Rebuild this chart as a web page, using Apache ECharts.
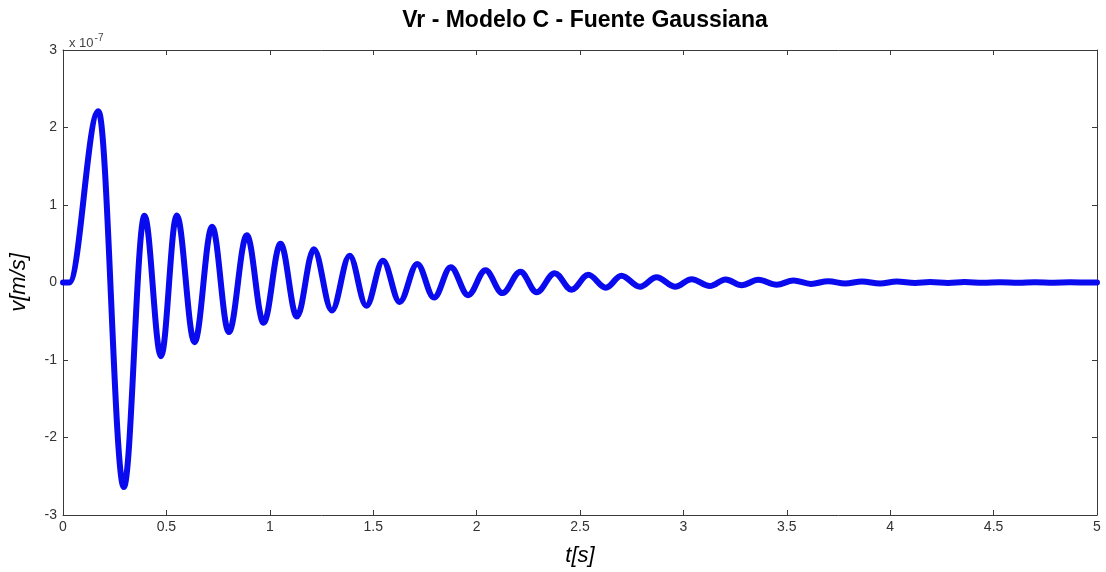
<!DOCTYPE html>
<html>
<head>
<meta charset="utf-8">
<script src="https://cdn.jsdelivr.net/npm/echarts@6/dist/echarts.min.js"></script>
<style>
  html, body { margin: 0; padding: 0; background: #ffffff; }
  #chart { width: 1106px; height: 572px; }
</style>
</head>
<body>
<div id="chart"></div>
<script>
// Radial velocity response (units of 1e-7 m/s), sampled at its turning points.
const timeS = [
  0, 0.03, 0.171, 0.294, 0.394, 0.474, 0.550, 0.636, 0.721, 0.802,
  0.889, 0.970, 1.052, 1.131, 1.213, 1.300, 1.386, 1.467, 1.547, 1.628,
  1.713, 1.794, 1.875, 1.959, 2.043, 2.125, 2.212, 2.290, 2.378, 2.459,
  2.540, 2.625, 2.700, 2.790, 2.870, 2.959, 3.040, 3.128, 3.204, 3.282,
  3.362, 3.451, 3.532, 3.617, 3.701, 3.782, 3.863, 3.951, 4.032, 4.120,
  4.193, 4.280, 4.360, 4.450, 4.530, 4.620, 4.700, 4.790, 4.870, 5.000
];
const vr = [
  0, 0, 2.21, -2.64, 0.86, -0.95, 0.865, -0.77, 0.72, -0.64,
  0.61, -0.52, 0.50, -0.44, 0.43, -0.36, 0.345, -0.30, 0.28, -0.25,
  0.24, -0.195, 0.197, -0.163, 0.158, -0.137, 0.139, -0.125, 0.12, -0.093,
  0.10, -0.067, 0.087, -0.054, 0.068, -0.054, 0.043, -0.045, 0.04, -0.035,
  0.035, -0.028, 0.025, -0.018, 0.017, -0.013, 0.013, -0.012, 0.012, -0.005,
  0.005, -0.005, 0.005, -0.004, 0.004, -0.003, 0.003, -0.002, 0.002, 0
];

const xTicks = { min: 0, max: 5, step: 0.5 };
const yTicks = { min: -3, max: 3, step: 1 };

const titleText = 'Vr - Modelo C - Fuente Gaussiana';
const xLabel = 't[s]';
const yLabel = 'v[m/s]';

const seriesData = timeS.map((t, i) => [t, vr[i]]);

const axisColor = '#3a3a3a';
const labelFont = { fontFamily: 'Liberation Sans', fontSize: 14, color: '#333333' };

function boxAxis(position, ticks, showLabels, extra) {
  return Object.assign({
    type: 'value',
    position: position,
    min: ticks.min,
    max: ticks.max,
    interval: ticks.step,
    splitLine: { show: false },
    axisLine: { show: true, onZero: false, lineStyle: { color: axisColor, width: 1 } },
    axisTick: { show: true, inside: true, length: 5, lineStyle: { color: axisColor } },
    axisLabel: Object.assign({ show: showLabels }, labelFont)
  }, extra || {});
}

const chart = echarts.init(document.getElementById('chart'), null, { renderer: 'canvas' });
chart.setOption({
  backgroundColor: '#ffffff',
  animation: false,
  title: [
    {
      text: titleText,
      left: 580,
      textAlign: 'center',
      top: 4,
      textStyle: { fontFamily: 'Liberation Sans', fontSize: 23, fontWeight: 'bold', color: '#000000' }
    },
    {
      // axis multiplier shown above the value axis
      text: '{a|x 10}{b|-7}',
      left: 64,
      top: 28,
      textStyle: {
        fontWeight: 'normal',
        rich: {
          a: { fontFamily: 'Liberation Sans', fontSize: 13, fontWeight: 'normal', color: '#444444', verticalAlign: 'bottom' },
          b: { fontFamily: 'Liberation Sans', fontSize: 10, fontWeight: 'normal', color: '#444444', verticalAlign: 'top', padding: [0, 0, 7, 1] }
        }
      }
    }
  ],
  grid: { left: 62, right: 9, top: 50, bottom: 55, containLabel: false },
  xAxis: [
    boxAxis('bottom', xTicks, true, {
      name: xLabel,
      nameLocation: 'middle',
      nameGap: 30,
      nameTextStyle: { fontFamily: 'Liberation Sans', fontSize: 22, fontStyle: 'italic', color: '#000000' },
      axisLabel: Object.assign({ show: true, margin: 5 }, labelFont)
    }),
    boxAxis('top', xTicks, false)
  ],
  yAxis: [
    boxAxis('left', yTicks, true, {
      name: yLabel,
      nameLocation: 'middle',
      nameRotate: 90,
      nameGap: 33,
      nameTextStyle: { fontFamily: 'Liberation Sans', fontSize: 22, fontStyle: 'italic', color: '#000000' },
      axisLabel: Object.assign({ show: true, margin: 6 }, labelFont)
    }),
    boxAxis('right', yTicks, false)
  ],
  series: [
    {
      type: 'line',
      xAxisIndex: 0,
      yAxisIndex: 0,
      data: seriesData,
      showSymbol: false,
      smooth: 0.36,
      smoothMonotone: 'x',
      lineStyle: { color: '#0a0aee', width: 6, join: 'round', cap: 'round' },
      clip: false
    }
  ]
});
</script>
</body>
</html>
